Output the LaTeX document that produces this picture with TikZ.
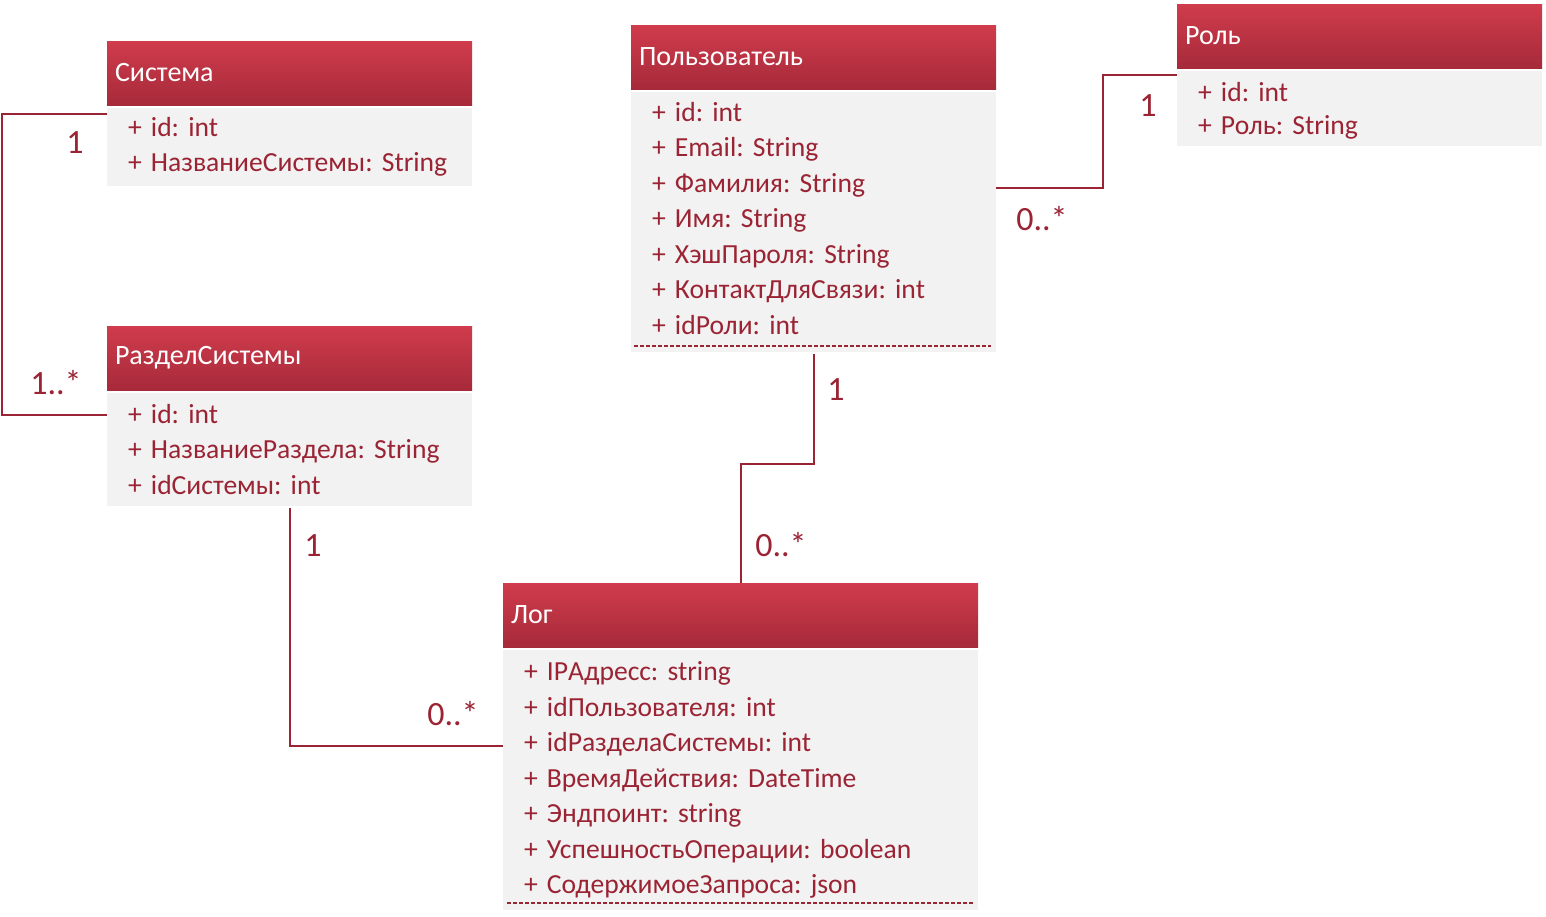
\documentclass[tikz,border=0pt]{standalone}
\usepackage{fontspec}
\setmainfont{Carlito}
\usepackage{tikz}
\usetikzlibrary{positioning}

\definecolor{hdtop}{RGB}{208,60,76}
\definecolor{hdbot}{RGB}{166,42,58}
\definecolor{bodygray}{RGB}{242,242,242}
\definecolor{umlred}{RGB}{155,36,52}

\begin{document}
\frenchspacing
\begin{tikzpicture}[
      x=0.5pt, y=-0.5pt,
      head/.style={top color=hdtop, bottom color=hdbot, text=white, anchor=north west,
        align=left, inner xsep=4pt, inner ysep=0pt, outer sep=0pt, minimum height=32pt,
        font=\fontsize{14}{17}\selectfont},
      attrs/.style={fill=bodygray, text=umlred, align=left, inner xsep=10.5pt, inner ysep=0pt,
        outer sep=0pt, font=\fontsize{13.8}{17.75}\selectfont},
      link/.style={draw=umlred, line width=1pt},
      sep/.style={draw=umlred, line width=0.6pt, dash pattern=on 2pt off 1pt},
      mult/.style={text=umlred, font=\fontsize{17}{20}\selectfont, inner sep=0pt}
    ]
    \useasboundingbox (0,0) rectangle (1546,916);

    % classes
    \node[head, text width=174.5pt] (sys_head) at (107,41) {Система};
    \node[attrs, text width=161.5pt, minimum height=39pt, below=1.5pt of sys_head] (sys_body)
      {+ id: int\\+ НазваниеСистемы: String};

    \node[head, text width=174.5pt] (sec_head) at (107,326) {РазделСистемы};
    \node[attrs, text width=161.5pt, minimum height=56.5pt, below=1.5pt of sec_head] (sec_body)
      {+ id: int\\+ НазваниеРаздела: String\\+ idСистемы: int};

    \node[head, text width=174.5pt] (usr_head) at (631,25) {Пользователь};
    \node[attrs, text width=161.5pt, minimum height=130pt, below=1.5pt of usr_head] (usr_body)
      {+ id: int\\+ Email: String\\+ Фамилия: String\\+ Имя: String\\+ ХэшПароля: String\\
       + КонтактДляСвязи: int\\+ idРоли: int\\[-13.75pt]\mbox{}};

    \node[head, text width=174.5pt] (role_head) at (1177,4) {Роль};
    \node[attrs, text width=161.5pt, minimum height=37.5pt, text height=11.7pt, below=1.5pt of role_head] (role_body)
      {+ id: int\\[-1pt]+ Роль: String};

    \node[head, text width=229.5pt] (log_head) at (503,583) {Лог};
    \node[attrs, text width=216.5pt, minimum height=130pt, below=1.5pt of log_head] (log_body)
      {+ IPАдресс: string\\+ idПользователя: int\\+ idРазделаСистемы: int\\
       + ВремяДействия: DateTime\\+ Эндпоинт: string\\+ УспешностьОперации: boolean\\
       + СодержимоеЗапроса: json};

    \draw[sep] ([xshift=1.5pt, yshift=3pt]usr_body.south west) -- ([xshift=-2.5pt, yshift=3pt]usr_body.south east);
    \draw[sep] ([xshift=2pt, yshift=3.5pt]log_body.south west) -- ([xshift=-2.5pt, yshift=3.5pt]log_body.south east);

    % associations
    \draw[link] ([yshift=-3pt]sys_body.north west) -- ++(-105,0) |- ([yshift=-11pt]sec_body.north west);
    \draw[link] ([yshift=-48pt]usr_body.north east) -- ++(107,0) |- ([yshift=-2pt]role_body.north west);
    \draw[link] ([yshift=-1pt]usr_body.south) -- ++(0,110) -| (log_head.north);
    \draw[link] ([yshift=-1pt]sec_body.south) |- ([yshift=-48pt]log_body.north west);

    % multiplicities
    \node[mult] (m_sys) at (75,143) {1};
    \node[mult] (m_sec) at (56,383) {1..*};
    \node[mult] (m_role) at (1148,106) {1};
    \node[mult] (m_usr_role) at (1042,219) {0..*};
    \node[mult] (m_usr_log) at (836,390) {1};
    \node[mult] (m_log_usr) at (781,545) {0..*};
    \node[mult] (m_sec_log) at (313,546) {1};
    \node[mult] (m_log_sec) at (453,714) {0..*};

    \end{tikzpicture}
\end{document}
